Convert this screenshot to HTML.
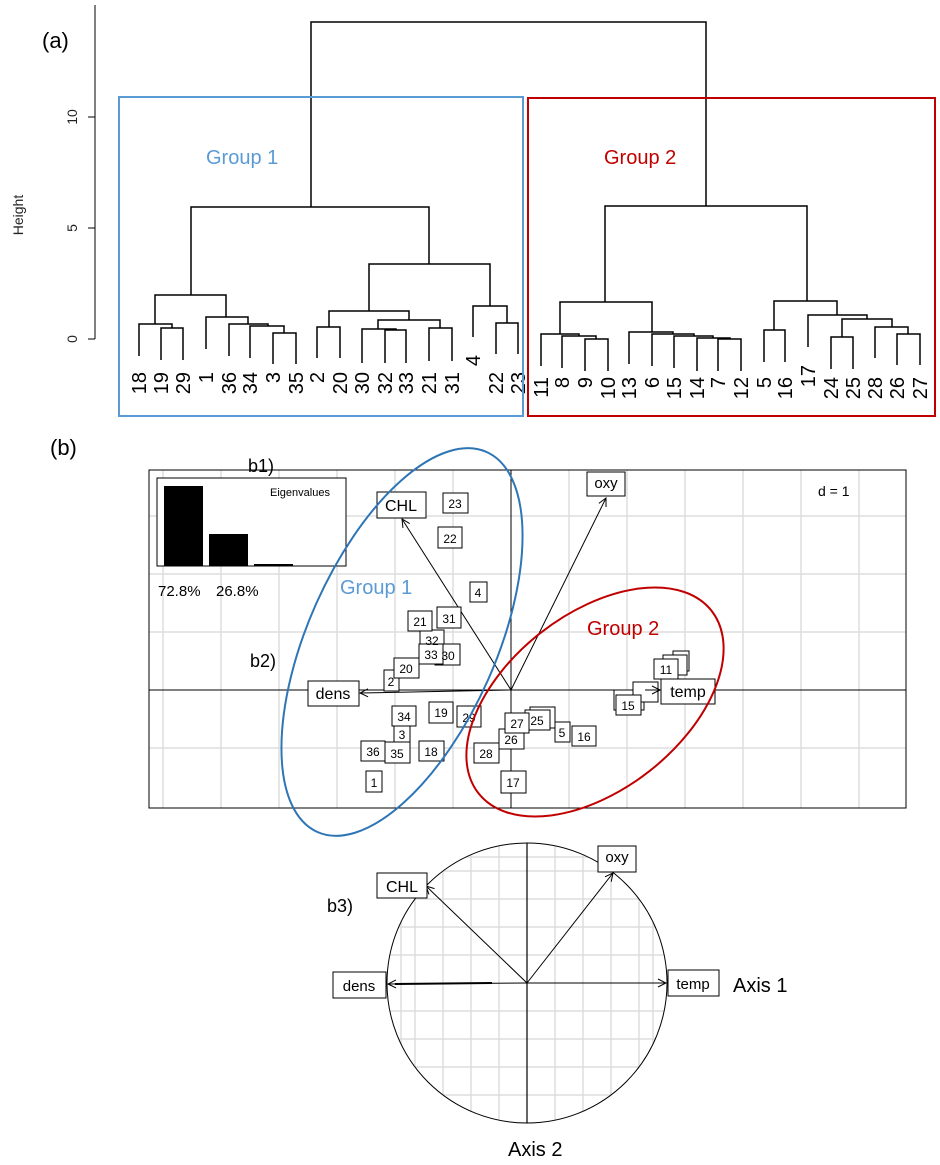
<!DOCTYPE html>
<html><head><meta charset="utf-8"><style>body{margin:0;background:#fff}svg{display:block}text{font-family:"Liberation Sans",Arial,sans-serif}</style></head><body>
<svg width="940" height="1165" viewBox="0 0 940 1165" xmlns="http://www.w3.org/2000/svg">
<defs>
<marker id="ah" markerWidth="10" markerHeight="10" refX="9" refY="5" orient="auto" markerUnits="userSpaceOnUse"><path d="M1,1 L9,5 L1,9" fill="none" stroke="#000" stroke-width="1"/></marker>
<clipPath id="cc"><circle cx="527" cy="983" r="140"/></clipPath>
</defs>
<text x="42" y="48" font-size="22" font-family="Liberation Sans">(a)</text>
<g stroke="#000" stroke-width="1" fill="none">
<line x1="95" y1="5" x2="95" y2="339"/>
<line x1="88" y1="339" x2="95" y2="339"/><line x1="88" y1="228" x2="95" y2="228"/><line x1="88" y1="117" x2="95" y2="117"/>
</g>
<g font-size="14" fill="#222" text-anchor="middle">
<text transform="translate(77,339) rotate(-90)">0</text>
<text transform="translate(77,228) rotate(-90)">5</text>
<text transform="translate(77,117) rotate(-90)">10</text>
<text transform="translate(23,215) rotate(-90)" font-size="14">Height</text>
</g>
<g stroke="#000" stroke-width="1.5" fill="none">
<path d="M311,207 V22 H706 V206"/>
<path d="M191,295 V207 H429 V264"/>
<path d="M155,324 V295 H226 V317"/>
<path d="M139,356 V324 H172 V328"/><path d="M161,360 V328 H183 V360"/>
<path d="M206,349 V317 H248 V324"/><path d="M229,356 V324 H268 V326"/><path d="M250,358 V326 H284 V333"/><path d="M273,364 V333 H296 V364"/>
<path d="M369,311 V264 H490 V306"/>
<path d="M329,327 V311 H409 V320"/>
<path d="M317,358 V327 H340 V358"/>
<path d="M378,329 V320 H440 V328"/>
<path d="M362,363 V329 H396 V330"/><path d="M385,363 V330 H406 V363"/>
<path d="M429,361 V328 H452 V361"/>
<path d="M473,337 V306 H507 V323"/><path d="M496,354 V323 H518 V354"/>
<path d="M605,302 V206 H807 V301"/>
<path d="M560,334 V302 H652 V332"/>
<path d="M541,366 V334 H579 V336"/><path d="M562,368 V336 H596 V339"/><path d="M585,371 V339 H608 V371"/>
<path d="M629,364 V332 H673 V334"/><path d="M652,366 V334 H694 V336"/><path d="M674,368 V336 H713 V338"/><path d="M697,371 V338 H730 V339"/><path d="M718,371 V339 H741 V371"/>
<path d="M774,330 V301 H837 V315"/>
<path d="M764,362 V330 H785 V362"/>
<path d="M808,347 V315 H867 V319"/>
<path d="M842,337 V319 H892 V327"/>
<path d="M831,369 V337 H853 V369"/>
<path d="M875,358 V327 H908 V334"/><path d="M897,365 V334 H920 V365"/>
</g>
<g font-size="20" fill="#000" text-anchor="end">
<text transform="translate(146,372) rotate(-90)">18</text>
<text transform="translate(168,372) rotate(-90)">19</text>
<text transform="translate(190,372) rotate(-90)">29</text>
<text transform="translate(213,372) rotate(-90)">1</text>
<text transform="translate(236,372) rotate(-90)">36</text>
<text transform="translate(257,372) rotate(-90)">34</text>
<text transform="translate(280,372) rotate(-90)">3</text>
<text transform="translate(303,372) rotate(-90)">35</text>
<text transform="translate(324,372) rotate(-90)">2</text>
<text transform="translate(347,372) rotate(-90)">20</text>
<text transform="translate(369,372) rotate(-90)">30</text>
<text transform="translate(392,372) rotate(-90)">32</text>
<text transform="translate(413,372) rotate(-90)">33</text>
<text transform="translate(436,372) rotate(-90)">21</text>
<text transform="translate(459,372) rotate(-90)">31</text>
<text transform="translate(480,355) rotate(-90)">4</text>
<text transform="translate(503,372) rotate(-90)">22</text>
<text transform="translate(525,372) rotate(-90)">23</text>
<text transform="translate(548,377) rotate(-90)">11</text>
<text transform="translate(569,377) rotate(-90)">8</text>
<text transform="translate(592,377) rotate(-90)">9</text>
<text transform="translate(615,377) rotate(-90)">10</text>
<text transform="translate(636,377) rotate(-90)">13</text>
<text transform="translate(659,377) rotate(-90)">6</text>
<text transform="translate(681,377) rotate(-90)">15</text>
<text transform="translate(704,377) rotate(-90)">14</text>
<text transform="translate(725,377) rotate(-90)">7</text>
<text transform="translate(748,377) rotate(-90)">12</text>
<text transform="translate(771,377) rotate(-90)">5</text>
<text transform="translate(792,377) rotate(-90)">16</text>
<text transform="translate(815,365) rotate(-90)">17</text>
<text transform="translate(838,377) rotate(-90)">24</text>
<text transform="translate(860,377) rotate(-90)">25</text>
<text transform="translate(882,377) rotate(-90)">28</text>
<text transform="translate(904,377) rotate(-90)">26</text>
<text transform="translate(927,377) rotate(-90)">27</text>
</g>
<rect x="119" y="97" width="404" height="319" fill="none" stroke="#5b9bd5" stroke-width="2"/>
<rect x="528" y="98" width="407" height="318" fill="none" stroke="#c00000" stroke-width="2"/>
<text x="206" y="164" font-size="20" fill="#5b9bd5">Group 1</text>
<text x="604" y="164" font-size="20" fill="#c00000">Group 2</text>

<text x="50" y="455" font-size="22">(b)</text>
<text x="248" y="472" font-size="18">b1)</text>
<text x="250" y="667" font-size="18">b2)</text>
<text x="327" y="912" font-size="18">b3)</text>
<g stroke="#ddd" stroke-width="1.5">
<line x1="163" y1="470" x2="163" y2="808"/><line x1="221" y1="470" x2="221" y2="808"/><line x1="279" y1="470" x2="279" y2="808"/><line x1="337" y1="470" x2="337" y2="808"/><line x1="395" y1="470" x2="395" y2="808"/><line x1="453" y1="470" x2="453" y2="808"/><line x1="569" y1="470" x2="569" y2="808"/><line x1="627" y1="470" x2="627" y2="808"/><line x1="685" y1="470" x2="685" y2="808"/><line x1="743" y1="470" x2="743" y2="808"/><line x1="801" y1="470" x2="801" y2="808"/><line x1="859" y1="470" x2="859" y2="808"/>
<line x1="149" y1="516" x2="906" y2="516"/><line x1="149" y1="574" x2="906" y2="574"/><line x1="149" y1="632" x2="906" y2="632"/><line x1="149" y1="748" x2="906" y2="748"/>
</g>
<line x1="149" y1="690" x2="906" y2="690" stroke="#000" stroke-width="1"/>
<line x1="511" y1="470" x2="511" y2="808" stroke="#000" stroke-width="1"/>
<rect x="149" y="470" width="757" height="338" fill="none" stroke="#000" stroke-width="1"/>
<rect x="157" y="478" width="189" height="88" fill="#fff" stroke="#000"/>
<rect x="164" y="486" width="39" height="80" fill="#000"/>
<rect x="209" y="534" width="39" height="32" fill="#000"/>
<rect x="254" y="564" width="39" height="2" fill="#000"/>
<text x="300" y="496" font-size="11" text-anchor="middle">Eigenvalues</text>
<text x="158" y="596" font-size="15">72.8%</text>
<text x="216" y="596" font-size="15">26.8%</text>
<text x="818" y="496" font-size="14">d = 1</text>
<g stroke="#000" stroke-width="1" fill="none" marker-end="url(#ah)">
<line x1="511" y1="690" x2="402" y2="519"/>
<line x1="511" y1="690" x2="606" y2="498"/>
<line x1="511" y1="690" x2="360" y2="693"/>
<line x1="587" y1="690" x2="660" y2="690"/>
</g>
<g font-size="14" text-anchor="middle">
<rect x="377" y="492" width="49" height="26" fill="#fff" stroke="#000"/><text x="401" y="511" font-size="16">CHL</text>
<rect x="587" y="472" width="38" height="24" fill="#fff" stroke="#000"/><text x="606" y="488" font-size="15">oxy</text>
<rect x="308" y="681" width="51" height="25" fill="#fff" stroke="#000"/><text x="333" y="699" font-size="16">dens</text>
</g>
<g font-size="12" text-anchor="middle" fill="#000">
<g stroke="#000" fill="#fff">
<rect x="443" y="493" width="25" height="20"/><rect x="438" y="527" width="24" height="21"/><rect x="470" y="582" width="17" height="20"/>
<rect x="420" y="630" width="24" height="20"/><rect x="435" y="644" width="25" height="21"/>
<rect x="408" y="611" width="24" height="20"/><rect x="437" y="607" width="24" height="21"/>
<rect x="419" y="644" width="24" height="20"/><rect x="384" y="670" width="15" height="21"/><rect x="394" y="658" width="25" height="20"/>
<rect x="392" y="706" width="24" height="20"/><rect x="429" y="702" width="24" height="21"/><rect x="457" y="706" width="24" height="21"/>
<rect x="394" y="726" width="16" height="16"/><rect x="361" y="741" width="24" height="20"/><rect x="385" y="742" width="25" height="21"/><rect x="419" y="741" width="25" height="20"/><rect x="366" y="771" width="16" height="21"/>
<rect x="474" y="743" width="25" height="20"/><rect x="530" y="707" width="25" height="21"/><rect x="525" y="710" width="25" height="20"/><rect x="499" y="729" width="25" height="20"/><rect x="505" y="713" width="24" height="20"/>
<rect x="555" y="722" width="15" height="20"/><rect x="572" y="726" width="24" height="20"/><rect x="501" y="771" width="25" height="22"/>
<rect x="673" y="651" width="16" height="20"/><rect x="663" y="655" width="24" height="20"/><rect x="654" y="659" width="24" height="20"/>
<rect x="614" y="690" width="30" height="20"/><rect x="633" y="682" width="25" height="20"/><rect x="616" y="695" width="25" height="20"/>
</g>
<text x="455" y="508">23</text><text x="450" y="543">22</text><text x="478" y="597">4</text>
<text x="432" y="645">32</text><text x="448" y="660">30</text>
<text x="420" y="626">21</text><text x="449" y="623">31</text>
<text x="431" y="659">33</text><text x="391" y="686">2</text><text x="406" y="673">20</text>
<text x="404" y="721">34</text><text x="441" y="717">19</text><text x="469" y="722">29</text>
<text x="402" y="739">3</text><text x="373" y="756">36</text><text x="397" y="758">35</text><text x="431" y="756">18</text><text x="374" y="787">1</text>
<text x="486" y="758">28</text><text x="537" y="725">25</text><text x="511" y="744">26</text><text x="517" y="728">27</text>
<text x="562" y="737">5</text><text x="584" y="741">16</text><text x="513" y="787">17</text>
<text x="666" y="674">11</text><text x="628" y="710">15</text>
</g>
<line x1="645" y1="690" x2="660" y2="690" stroke="#000" marker-end="url(#ah)"/>
<rect x="661" y="679" width="54" height="25" fill="#fff" stroke="#000"/><text x="688" y="697" font-size="16" text-anchor="middle">temp</text>
<ellipse cx="402" cy="642" rx="208" ry="94" transform="rotate(-66 402 642)" fill="none" stroke="#2e75b6" stroke-width="2"/>
<ellipse cx="595" cy="702" rx="148" ry="88" transform="rotate(-38 595 702)" fill="none" stroke="#c00000" stroke-width="2"/>
<text x="340" y="594" font-size="20" fill="#5b9bd5">Group 1</text>
<text x="587" y="635" font-size="20" fill="#c00000">Group 2</text>
<g clip-path="url(#cc)" stroke="#ddd" stroke-width="1.5">
<line x1="415" y1="840" x2="415" y2="1130"/><line x1="443" y1="840" x2="443" y2="1130"/><line x1="471" y1="840" x2="471" y2="1130"/><line x1="499" y1="840" x2="499" y2="1130"/><line x1="555" y1="840" x2="555" y2="1130"/><line x1="583" y1="840" x2="583" y2="1130"/><line x1="611" y1="840" x2="611" y2="1130"/><line x1="639" y1="840" x2="639" y2="1130"/><line x1="401" y1="840" x2="401" y2="1130"/><line x1="653" y1="840" x2="653" y2="1130"/>
<line x1="380" y1="871" x2="670" y2="871"/><line x1="380" y1="899" x2="670" y2="899"/><line x1="380" y1="927" x2="670" y2="927"/><line x1="380" y1="955" x2="670" y2="955"/><line x1="380" y1="1011" x2="670" y2="1011"/><line x1="380" y1="1039" x2="670" y2="1039"/><line x1="380" y1="1067" x2="670" y2="1067"/><line x1="380" y1="1095" x2="670" y2="1095"/><line x1="380" y1="1123" x2="670" y2="1123"/><line x1="380" y1="857" x2="670" y2="857"/>
</g>
<circle cx="527" cy="983" r="140" fill="none" stroke="#000" stroke-width="1"/>
<line x1="527" y1="843" x2="527" y2="1123" stroke="#000" stroke-width="1.2"/>
<g stroke="#000" stroke-width="1" fill="none" marker-end="url(#ah)">
<line x1="527" y1="983" x2="426" y2="886"/>
<line x1="527" y1="983" x2="613" y2="873"/>
<line x1="527" y1="983" x2="388" y2="984"/>
<line x1="527" y1="983" x2="666" y2="983"/>
</g>
<line x1="395" y1="984" x2="492" y2="983" stroke="#000" stroke-width="2"/>
<g text-anchor="middle" font-size="16">
<rect x="377" y="873" width="50" height="25" fill="#fff" stroke="#000"/><text x="402" y="892">CHL</text>
<rect x="598" y="846" width="38" height="26" fill="#fff" stroke="#000"/><text x="617" y="862" font-size="15">oxy</text>
<rect x="333" y="972" width="53" height="26" fill="#fff" stroke="#000"/><text x="359" y="991" font-size="15">dens</text>
<rect x="668" y="970" width="51" height="26" fill="#fff" stroke="#000"/><text x="693" y="989" font-size="15">temp</text>
</g>
<text x="733" y="992" font-size="20">Axis 1</text>
<text x="508" y="1156" font-size="20">Axis 2</text>
</svg>
</body></html>
